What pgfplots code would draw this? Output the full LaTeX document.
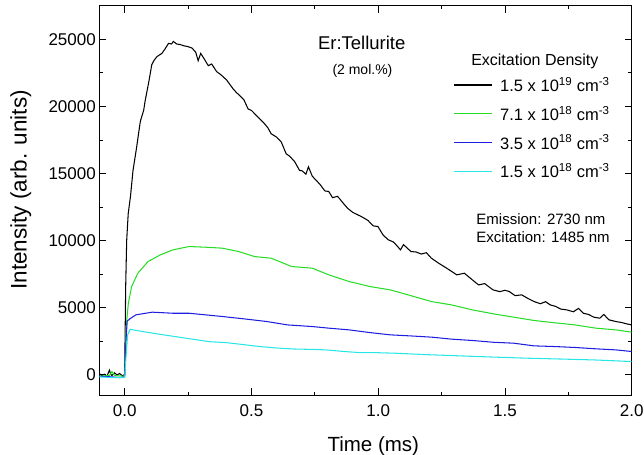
\documentclass[border=0pt]{standalone}
\usepackage{pgfplots}
\pgfplotsset{compat=1.18}
\usepackage{fontspec}
\setmainfont{Liberation Sans}
\definecolor{cgreen}{RGB}{40,220,40}
\definecolor{cblue}{RGB}{30,30,225}
\definecolor{ccyan}{RGB}{40,230,230}
\begin{document}
\begin{tikzpicture}
\begin{axis}[
  scale only axis,
  width=532.4bp, height=389.3bp,
  xmin=-0.1, xmax=2.0,
  ymin=-1500, ymax=27500,
  xtick={0,0.5,1,1.5,2},
  minor xtick={0.25,0.75,1.25,1.75},
  ytick={0,5000,10000,15000,20000,25000},
  minor ytick={2500,7500,12500,17500,22500},
  scaled ticks=false,
  tick align=inside,
  major tick length=7bp,
  minor tick length=3.5bp,
  axis line style={line width=0.8bp},
  every tick/.style={black, line width=0.8bp},
  /pgf/number format/assume math mode=true,
  xticklabel style={/pgf/number format/fixed, /pgf/number format/fixed zerofill, /pgf/number format/precision=1, yshift=-6bp},
  yticklabel style={/pgf/number format/1000 sep={}},
  ticklabel style={font=\fontsize{17bp}{20bp}\selectfont},
  xlabel={Time (ms)},
  ylabel={Intensity (arb. units)},
  xlabel style={font=\fontsize{20.5bp}{24bp}\selectfont, at={(axis description cs:0.5147,-0.1456)}, anchor=base},
  ylabel style={font=\fontsize{22.5bp}{26bp}\selectfont, at={(axis description cs:-0.1364,0.527)}, anchor=base},
  legend image code/.code={\draw[#1, line width=1.2bp] (0bp,0bp) -- (38bp,0bp);},
  legend style={at={(rel axis cs:0.665,0.822)}, anchor=north west, draw=none, fill=none,
    inner sep=0pt, row sep=9bp, column sep=5.5bp,
    font=\fontsize{16.5bp}{19bp}\selectfont},
  legend cell align=left,
]
\addplot[draw=black, line width=1.05bp] coordinates {
(-0.10,100) (-0.09,-50) (-0.08,50) (-0.07,-100) (-0.06,350) (-0.055,50) (-0.05,-50) (-0.04,150) (-0.03,0) (-0.02,100) (-0.01,-50) (0.000,0)
(0.004,6500) (0.008,10000) (0.014,12000) (0.023,13300) (0.033,15230) (0.046,16800) (0.062,18900) (0.075,19700) (0.081,20430) (0.095,21800)
(0.107,23100) (0.115,23400) (0.127,23700) (0.147,23950) (0.160,24300) (0.173,24690) (0.185,24650) (0.192,24840) (0.205,24650) (0.220,24600)
(0.232,24520) (0.250,24450) (0.265,24350) (0.280,24050) (0.290,23400) (0.300,23950) (0.315,23500) (0.330,23030) (0.343,23160) (0.363,22590)
(0.380,22350) (0.402,21970) (0.428,21300) (0.440,21050) (0.454,20800) (0.470,20500) (0.487,19810) (0.500,19700) (0.520,19320) (0.552,18700)
(0.565,18400) (0.578,17960) (0.600,17700) (0.618,17340) (0.637,16470) (0.650,16300) (0.670,15900) (0.690,15230) (0.700,15200) (0.715,14950)
(0.725,15500) (0.740,14800) (0.770,14200) (0.790,13700) (0.805,13660) (0.820,13200) (0.840,13300) (0.862,12790) (0.880,12400) (0.900,12100)
(0.934,11790) (0.960,11500) (0.980,11100) (0.999,11050) (1.020,10400) (1.040,10060) (1.060,9900) (1.075,9600) (1.088,9310) (1.100,9700)
(1.129,9190) (1.150,9150) (1.170,9000) (1.190,9100) (1.210,8690) (1.240,8300) (1.270,7950) (1.290,7700) (1.310,7450) (1.340,7570)
(1.370,7100) (1.396,6700) (1.420,6800) (1.453,6330) (1.480,6200) (1.500,6300) (1.517,6210) (1.540,5900) (1.566,5960) (1.590,5700)
(1.615,5460) (1.640,5300) (1.660,5450) (1.679,5210) (1.700,5100) (1.720,4900) (1.744,4840) (1.770,4700) (1.790,4950) (1.809,4590)
(1.830,4500) (1.850,4300) (1.874,4220) (1.890,4500) (1.910,4100) (1.938,3970) (1.960,3900) (1.980,3800) (2.000,3720)
};
\addlegendentry{1.5 x 10\textsuperscript{19} cm\textsuperscript{-3}}
\addplot[draw=cgreen, line width=1.05bp] coordinates {
(-0.10,-100) (-0.06,-50) (-0.05,250) (-0.04,-50) (0.00,-100) (0.003,1500) (0.008,4000) (0.0146,5340) (0.0275,6580) (0.052,7570)
(0.092,8440) (0.141,8940) (0.190,9310) (0.254,9560) (0.319,9510) (0.384,9440) (0.449,9190) (0.513,8810) (0.578,8690) (0.659,8070)
(0.740,7950) (0.805,7450) (0.886,6950) (0.967,6580) (1.048,6330) (1.129,5900) (1.210,5460) (1.290,5210) (1.372,4840) (1.453,4550)
(1.534,4300) (1.615,4050) (1.696,3880) (1.777,3720) (1.858,3480) (1.938,3350) (2.000,3180)
};
\addlegendentry{7.1 x 10\textsuperscript{18} cm\textsuperscript{-3}}
\addplot[draw=cblue, line width=1.05bp] coordinates {
(-0.10,-100) (-0.05,-150) (-0.02,-200) (0.00,-150) (0.005,2500) (0.010,4000) (0.019,4150) (0.044,4470) (0.109,4670) (0.190,4590)
(0.254,4590) (0.319,4470) (0.384,4350) (0.481,4150) (0.562,3970) (0.643,3720) (0.740,3600) (0.805,3480) (0.886,3350) (0.967,3150)
(1.048,2980) (1.129,2900) (1.210,2810) (1.290,2660) (1.372,2560) (1.453,2430) (1.534,2360) (1.615,2160) (1.696,2110) (1.777,2040)
(1.858,1940) (1.938,1860) (2.000,1740)
};
\addlegendentry{3.5 x 10\textsuperscript{18} cm\textsuperscript{-3}}
\addplot[draw=ccyan, line width=1.05bp] coordinates {
(-0.10,-150) (-0.05,-200) (0.00,-200) (0.006,1500) (0.012,3000) (0.022,3390) (0.08,3200) (0.14,3020) (0.20,2850) (0.27,2650)
(0.336,2470) (0.402,2400) (0.47,2250) (0.533,2110) (0.60,2000) (0.663,1930) (0.73,1900) (0.794,1860) (0.86,1750) (0.925,1660)
(1.00,1650) (1.069,1610) (1.20,1500) (1.33,1410) (1.46,1320) (1.592,1240) (1.72,1180) (1.854,1110) (1.93,1050) (2.00,990)
};
\addlegendentry{1.5 x 10\textsuperscript{18} cm\textsuperscript{-3}}
\node[anchor=base, inner sep=0pt, font=\fontsize{18.5bp}{22bp}\selectfont] at (axis cs:0.935,24270) {Er:Tellurite};
\node[anchor=base, inner sep=0pt, font=\fontsize{14bp}{17bp}\selectfont] at (axis cs:0.938,22340) {(2 mol.\%)};
\node[anchor=base, inner sep=0pt, font=\fontsize{16bp}{19bp}\selectfont] at (axis cs:1.618,23030) {Excitation Density};
\node[anchor=base west, inner sep=0pt, font=\fontsize{15bp}{18bp}\selectfont] at (axis cs:1.387,11220) {Emission: 2730 nm};
\node[anchor=base west, inner sep=0pt, font=\fontsize{15bp}{18bp}\selectfont] at (axis cs:1.387,9830) {Excitation: 1485 nm};
\end{axis}
\pgfresetboundingbox
\path[use as bounding box] ([xshift=-99.3bp,yshift=-60bp]current axis.south west) rectangle ([xshift=12.3bp,yshift=5.7bp]current axis.north east);
\end{tikzpicture}
\end{document}
